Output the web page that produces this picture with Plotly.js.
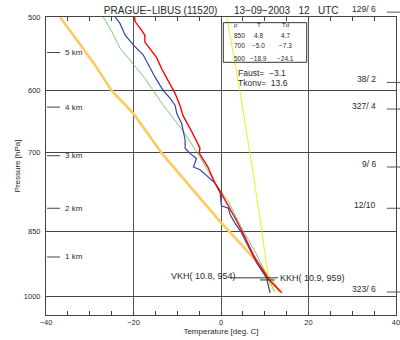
<!DOCTYPE html>
<html><head><meta charset="utf-8">
<script src="https://cdn.plot.ly/plotly-3.0.1.min.js"></script>
<style>html,body{margin:0;padding:0;background:#fff}</style>
</head><body><div id="chart" style="width:400px;height:340px"></div>
<script>
// Temperature profile (red)
const tempP = [500, 506, 514, 523, 532, 541, 553, 568, 582, 594, 604, 622, 638, 664, 686, 692, 700, 725, 743, 754, 770, 796, 822, 850, 879, 901, 920, 959, 990];
const tempT = [-19.8, -19.6, -18.5, -17.4, -17.4, -16.2, -14.7, -13.6, -12.4, -11.3, -10.5, -9.4, -8.7, -6.7, -5.2, -4.8, -5.0, -3.0, -2.0, -1.4, -0.2, 1.6, 3.2, 4.8, 6.2, 7.4, 8.5, 11.0, 13.9];
// Dew point profile (blue)
const dewP = [500, 508, 523, 536, 549, 563, 580, 600, 611, 622, 635, 651, 664, 678, 692, 701, 710, 725, 730, 743, 754, 773, 798, 803, 816, 833, 853, 876, 898, 920, 954, 990];
const dewT = [-24.2, -23.1, -21.9, -20.0, -17.8, -16.6, -15.1, -13.2, -11.7, -10.5, -10.1, -9.0, -8.6, -8.2, -8.2, -7.1, -5.6, -6.3, -4.8, -3.0, -1.4, -0.2, 0.1, 1.7, 2.1, 3.2, 4.7, 5.9, 7.0, 8.2, 10.4, 11.2];
// Moist adiabat (green)
const moistP = [500, 518, 540, 563, 582, 600, 622, 664, 707, 754, 790, 843, 894, 924, 959, 988];
const moistT = [-26.9, -25.0, -23.1, -20.0, -17.4, -15.5, -13.2, -8.6, -4.8, -1.4, 1.7, 4.7, 7.8, 9.3, 10.9, 12.3];
// Mixing ratio line (yellow)
const mixP = [500, 600, 700, 822, 924, 990];
const mixT = [1.3, 4.3, 6.6, 8.9, 10.4, 11.4];
// Dry adiabat (orange)
const dryP = [500, 563, 600, 635, 700, 783, 830, 879, 920, 988];
const dryT = [-36.8, -28.8, -25.0, -20.0, -13.6, -4.8, -0.2, 4.7, 8.5, 13.5];
// Condensation levels
const vkhLabel = 'VKH( 10.8, 954)';
const vkhP = [954, 954];
const vkhT = [2.1, 13.0];
const kkhLabel = 'KKH( 10.9, 959)';
const kkhP = [959, 959];
const kkhT = [8.9, 12.3];
// Wind labels (right side)
const windP = [494, 588, 628, 725, 803, 988];
const windLabels = ['129/ 6', '38/ 2', '327/ 4', '9/ 6', '12/10', '323/ 6'];
// Height markers (left side)
const kmP = [546, 625, 705, 803, 906];
const kmLabels = ['5 km', '4 km', '3 km', '2 km', '1 km'];
// Table
const tableHeader = ['p', 'T', 'Td'];
const tableP = ['850', '700', '500'];
const tableT = ['4.8', '\u22125.0', '\u221218.9'];
const tableTd = ['4.7', '\u22127.3', '\u221224.1'];
const faustText = 'Faust=\u00a0\u00a0\u22123.1';
const tkonvText = 'Tkonv=\u00a0\u00a013.6';
// Axes
const pTicks = [500, 600, 700, 850, 1000];
const pBottom = 1046, pTop = 500;

const FONT = 'Liberation Sans, Arial, sans-serif';
const TXT = '#2a2a2a';
const L = Math.log10;
function pPaper(p) { return (L(pBottom) - L(p)) / (L(pBottom) - L(pTop)); }

const traces = [
  {x: dryT, y: dryP, mode: 'lines', line: {color: '#fdca60', width: 2.6}},
  {x: mixT, y: mixP, mode: 'lines', line: {color: '#eeee22', width: 1}},
  {x: moistT, y: moistP, mode: 'lines', line: {color: '#55bb55', width: 0.8}},
  {x: dewT, y: dewP, mode: 'lines', line: {color: '#3344aa', width: 1.2}},
  {x: tempT, y: tempP, mode: 'lines', line: {color: '#ff0000', width: 1.4}},
  {x: vkhT, y: vkhP, mode: 'lines', line: {color: '#333', width: 1}},
  {x: kkhT, y: kkhP, mode: 'lines', line: {color: '#333', width: 1}}
];

const shapes = [];
const ann = [];
// wind ticks + labels
windP.forEach((p, i) => {
  shapes.push({type: 'line', xref: 'paper', yref: 'paper', x0: 0.974, x1: 1.02, y0: pPaper(p), y1: pPaper(p), line: {color: '#555', width: 1}});
  ann.push({xref: 'paper', yref: 'paper', x: 0.949, y: pPaper(p), xanchor: 'right', yanchor: 'middle', yshift: 3, text: windLabels[i], showarrow: false, font: {size: 8.5, color: TXT, family: FONT}});
});
// km markers
kmP.forEach((p, i) => {
  shapes.push({type: 'line', xref: 'paper', yref: 'paper', x0: 0.003, x1: 0.04, y0: pPaper(p), y1: pPaper(p), line: {color: '#444', width: 1}});
  ann.push({xref: 'paper', yref: 'paper', x: 0.048, y: pPaper(p), xanchor: 'left', yanchor: 'middle', text: kmLabels[i], showarrow: false, font: {size: 8, color: TXT, family: FONT}});
});
// table box
shapes.push({type: 'rect', xref: 'paper', yref: 'paper', x0: 0.5066, x1: 0.7449, y0: 0.848, y1: 0.981, line: {color: '#333', width: 1}});
const colX = [0.532, 0.608, 0.683];
const headY = 0.972, rowY = [0.939, 0.905, 0.860];
tableHeader.forEach((h, j) => {
  ann.push({xref: 'paper', yref: 'paper', x: colX[j], y: headY, xanchor: j === 0 ? 'left' : 'center', yanchor: 'middle', text: h, showarrow: false, font: {size: 6, color: TXT, family: FONT}});
});
tableP.forEach((p, i) => {
  ann.push({xref: 'paper', yref: 'paper', x: colX[0], y: rowY[i], xanchor: 'left', yanchor: 'middle', text: p, showarrow: false, font: {size: 6.5, color: TXT, family: FONT}});
  ann.push({xref: 'paper', yref: 'paper', x: colX[1], y: rowY[i], xanchor: 'center', yanchor: 'middle', text: tableT[i], showarrow: false, font: {size: 6.5, color: TXT, family: FONT}});
  ann.push({xref: 'paper', yref: 'paper', x: colX[2], y: rowY[i], xanchor: 'center', yanchor: 'middle', text: tableTd[i], showarrow: false, font: {size: 6.5, color: TXT, family: FONT}});
});
ann.push({xref: 'paper', yref: 'paper', x: 0.542, y: 0.813, xanchor: 'left', yanchor: 'middle', text: faustText, showarrow: false, font: {size: 8.5, color: TXT, family: FONT}});
ann.push({xref: 'paper', yref: 'paper', x: 0.542, y: 0.7775, xanchor: 'left', yanchor: 'middle', text: tkonvText, showarrow: false, font: {size: 8.5, color: TXT, family: FONT}});
// condensation labels
ann.push({xref: 'x', yref: 'y', x: 3.9, y: L(vkhP[0]), xanchor: 'right', yanchor: 'middle', yshift: 2, text: vkhLabel, showarrow: false, font: {size: 9, color: TXT, family: FONT}});
ann.push({xref: 'x', yref: 'y', x: 13.03, y: L(kkhP[0]), xanchor: 'left', yanchor: 'middle', yshift: 2, text: kkhLabel, showarrow: false, font: {size: 9, color: TXT, family: FONT}});

const layout = {
  width: 400, height: 340,
  margin: {l: 46, r: 4, t: 17, b: 25},
  paper_bgcolor: '#fff', plot_bgcolor: '#fff',
  showlegend: false, hovermode: false,
  font: {family: FONT, color: TXT, size: 8},
  title: {text: 'PRAGUE\u2212LIBUS (11520)\u00a0\u00a0\u00a0\u00a0\u00a0\u00a013\u221209\u22122003\u00a0\u00a0\u00a012\u00a0\u00a0\u00a0UTC', x: 0.553, xanchor: 'center', y: 0.97, yref: 'container', yanchor: 'middle', font: {size: 10, color: TXT, family: FONT}},
  xaxis: {
    range: [-40, 40], tickmode: 'linear', tick0: -40, dtick: 20,
    showgrid: true, gridcolor: '#555', gridwidth: 1, zeroline: false,
    showline: true, linecolor: '#444', linewidth: 1, mirror: 'ticks',
    ticks: 'inside', ticklen: 4, tickcolor: '#444', ticklabeloverflow: 'allow',
    minor: {dtick: 5, tick0: -40, ticks: 'inside', ticklen: 4, tickcolor: '#444', showgrid: false},
    tickfont: {size: 7.5, color: TXT, family: FONT},
    title: {text: 'Temperature [deg. C]', font: {size: 8, color: TXT, family: FONT}, standoff: 2}
  },
  yaxis: {
    type: 'log', range: [L(pBottom), L(pTop)], tickvals: pTicks,
    showgrid: true, gridcolor: '#444', gridwidth: 1, zeroline: false,
    showline: true, linecolor: '#444', linewidth: 1, mirror: true,
    ticks: '', ticklabelstandoff: 3,
    tickfont: {size: 7.5, color: TXT, family: FONT},
    title: {text: 'Pressure [hPa]', font: {size: 8, color: TXT, family: FONT}, standoff: 2}
  },
  shapes: shapes,
  annotations: ann
};
Plotly.newPlot('chart', traces, layout, {staticPlot: true, displayModeBar: false});
</script>
</body></html>
